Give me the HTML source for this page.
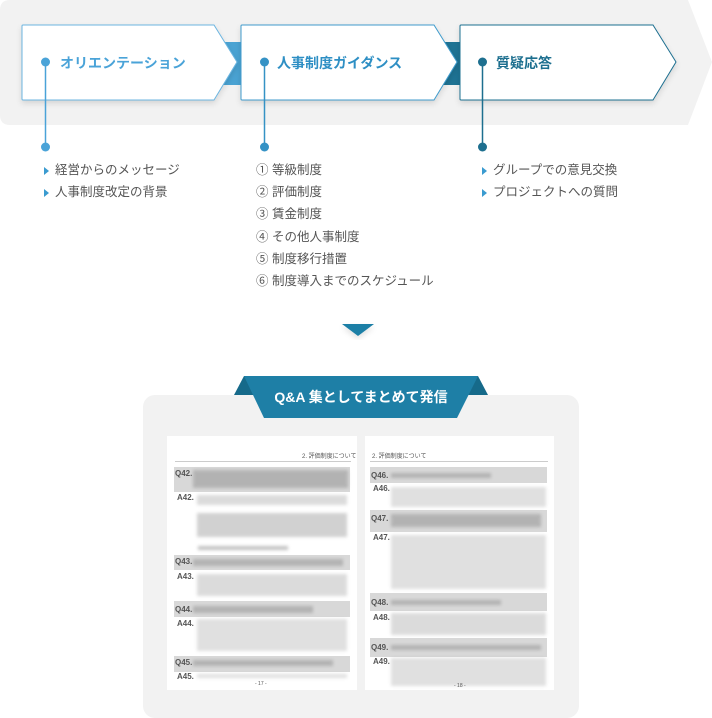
<!DOCTYPE html>
<html><head><meta charset="utf-8">
<style>
*{margin:0;padding:0;box-sizing:border-box}
body{width:712px;height:718px;background:#fff;position:relative;overflow:hidden;font-family:"Liberation Sans","Noto Sans CJK JP",sans-serif}
.abs{position:absolute}
.title{position:absolute;font-size:14px;font-weight:bold;top:53px;white-space:nowrap}
.li{position:absolute;font-size:12.5px;color:#555;white-space:nowrap;line-height:16px}
.tri{position:absolute;width:0;height:0;border-left:5px solid #3a9bd0;border-top:4px solid transparent;border-bottom:4px solid transparent}
.qa{position:absolute;font-size:8px;font-weight:bold;color:#555}
.band{position:absolute;background:#d8d8d8}
.blur{position:absolute;background:#9a9a9a;filter:blur(1.5px);opacity:.6}
</style></head><body>
<svg class="abs" style="left:0;top:0" width="712" height="345">
<defs>
<filter id="sh" x="-10%" y="-10%" width="130%" height="140%"><feDropShadow dx="0" dy="3" stdDeviation="3" flood-color="#000" flood-opacity="0.12"/></filter>
</defs>
<path d="M10 0 H688 L712 62 L688 125 H10 Q0 125 0 115 V10 Q0 0 10 0Z" fill="#f2f2f2"/>
<rect x="220" y="42" width="25" height="43" fill="#4aa3d3"/>
<rect x="438" y="42" width="25" height="43" fill="#1e7394"/>
<g filter="url(#sh)">
<path d="M22 26 Q22 25 23 25 H214 L237 62 L214 100 H23 Q22 100 22 99Z" fill="#fff" stroke="#6cb5e0" stroke-width="1"/>
<path d="M241 26 Q241 25 242 25 H434 L457 62 L434 100 H242 Q241 100 241 99Z" fill="#fff" stroke="#3f9bcc" stroke-width="1"/>
<path d="M460 26 Q460 25 461 25 H653 L676 62 L653 100 H461 Q460 100 460 99Z" fill="#fff" stroke="#1f6f90" stroke-width="1"/>
</g>
<line x1="45.5" y1="62" x2="45.5" y2="147" stroke="#4aa3d8" stroke-width="1.5"/>
<circle cx="45.5" cy="62" r="4.5" fill="#4aa3d8"/><circle cx="45.5" cy="147" r="4.5" fill="#4aa3d8"/>
<line x1="264.5" y1="62" x2="264.5" y2="147" stroke="#3592c5" stroke-width="1.5"/>
<circle cx="264.5" cy="62" r="4.5" fill="#3592c5"/><circle cx="264.5" cy="147" r="4.5" fill="#3592c5"/>
<line x1="482.5" y1="62" x2="482.5" y2="147" stroke="#1d6f8f" stroke-width="1.5"/>
<circle cx="482.5" cy="62" r="4.5" fill="#1d6f8f"/><circle cx="482.5" cy="147" r="4.5" fill="#1d6f8f"/>
<path d="M342 324 H374 L358 336Z" fill="#1e7fa6" filter="url(#sh)"/>
</svg>
<div class="title" style="left:60px;color:#4aa3d8">オリエンテーション</div>
<div class="title" style="left:277px;color:#2e8fc4">人事制度ガイダンス</div>
<div class="title" style="left:496px;color:#1d6f8f">質疑応答</div>

<div class="tri" style="left:44px;top:167px"></div><div class="li" style="left:55px;top:162px">経営からのメッセージ</div>
<div class="tri" style="left:44px;top:189px"></div><div class="li" style="left:55px;top:184px">人事制度改定の背景</div>
<div class="tri" style="left:482px;top:167px"></div><div class="li" style="left:493px;top:162px">グループでの意見交換</div>
<div class="tri" style="left:482px;top:189px"></div><div class="li" style="left:493px;top:184px">プロジェクトへの質問</div>
<div class="li" style="left:256px;top:162px">① 等級制度</div>
<div class="li" style="left:256px;top:184px">② 評価制度</div>
<div class="li" style="left:256px;top:206px">③ 賃金制度</div>
<div class="li" style="left:256px;top:229px">④ その他人事制度</div>
<div class="li" style="left:256px;top:251px">⑤ 制度移行措置</div>
<div class="li" style="left:256px;top:273px">⑥ 制度導入までのスケジュール</div>

<div class="abs" style="left:143px;top:395px;width:436px;height:323px;background:#f2f2f2;border-radius:12px"></div>
<svg class="abs" style="left:230px;top:374px" width="262" height="46">
<path d="M4 21 L14 2 H24 L24 21Z" fill="#166a8a"/>
<path d="M258 21 L248 2 H238 L238 21Z" fill="#166a8a"/>
<path d="M14 2 H248 L227 44 H34Z" fill="#1e7fa6"/>
<text x="131" y="28" text-anchor="middle" fill="#fff" font-size="14" font-weight="bold" font-family="Liberation Sans, Noto Sans CJK JP, sans-serif">Q&amp;A 集としてまとめて発信</text>
</svg>

<div class="abs" style="left:167px;top:436px;width:190px;height:254px;background:#fff"></div>
<div class="abs" style="left:365px;top:436px;width:189px;height:254px;background:#fff"></div>
<div class="abs" style="left:175px;top:461px;width:176px;height:1px;background:#ccc"></div>
<div class="abs" style="left:370px;top:461px;width:178px;height:1px;background:#ccc"></div>
<div class="qa" style="left:302px;top:451px;font-weight:normal;font-size:6px">2. 評価制度について</div>
<div class="qa" style="left:372px;top:451px;font-weight:normal;font-size:6px">2. 評価制度について</div>

<div class="band" style="left:174px;top:467px;width:176px;height:25px"></div>
<div class="band" style="left:174px;top:555px;width:176px;height:15px"></div>
<div class="band" style="left:174px;top:601px;width:176px;height:16px"></div>
<div class="band" style="left:174px;top:656px;width:176px;height:16px"></div>
<div class="band" style="left:370px;top:467px;width:177px;height:16px"></div>
<div class="band" style="left:370px;top:510px;width:177px;height:22px"></div>
<div class="band" style="left:370px;top:593px;width:177px;height:18px"></div>
<div class="band" style="left:370px;top:638px;width:177px;height:19px"></div>

<div class="qa" style="left:175px;top:469px">Q42.</div><div class="qa" style="left:177px;top:493px">A42.</div>
<div class="qa" style="left:175px;top:557px">Q43.</div><div class="qa" style="left:177px;top:572px">A43.</div>
<div class="qa" style="left:175px;top:605px">Q44.</div><div class="qa" style="left:177px;top:619px">A44.</div>
<div class="qa" style="left:175px;top:658px">Q45.</div><div class="qa" style="left:177px;top:672px">A45.</div>
<div class="qa" style="left:371px;top:471px">Q46.</div><div class="qa" style="left:373px;top:484px">A46.</div>
<div class="qa" style="left:371px;top:514px">Q47.</div><div class="qa" style="left:373px;top:533px">A47.</div>
<div class="qa" style="left:371px;top:598px">Q48.</div><div class="qa" style="left:373px;top:613px">A48.</div>
<div class="qa" style="left:371px;top:643px">Q49.</div><div class="qa" style="left:373px;top:657px">A49.</div>

<div class="blur" style="left:193px;top:470px;width:155px;height:18px"></div>
<div class="blur" style="left:197px;top:495px;width:150px;height:10px;opacity:.35"></div>
<div class="blur" style="left:197px;top:513px;width:150px;height:24px;opacity:.45"></div>
<div class="blur" style="left:198px;top:546px;width:90px;height:4px"></div>
<div class="blur" style="left:193px;top:559px;width:150px;height:7px"></div>
<div class="blur" style="left:197px;top:574px;width:150px;height:22px;opacity:.35"></div>
<div class="blur" style="left:193px;top:606px;width:120px;height:7px"></div>
<div class="blur" style="left:197px;top:619px;width:150px;height:32px;opacity:.3"></div>
<div class="blur" style="left:193px;top:660px;width:140px;height:6px"></div>
<div class="blur" style="left:197px;top:674px;width:150px;height:4px;opacity:.3"></div>
<div class="blur" style="left:391px;top:473px;width:100px;height:5px"></div>
<div class="blur" style="left:391px;top:487px;width:155px;height:20px;opacity:.3"></div>
<div class="blur" style="left:391px;top:514px;width:150px;height:13px"></div>
<div class="blur" style="left:391px;top:535px;width:155px;height:54px;opacity:.3"></div>
<div class="blur" style="left:391px;top:600px;width:110px;height:5px"></div>
<div class="blur" style="left:391px;top:613px;width:155px;height:22px;opacity:.35"></div>
<div class="blur" style="left:391px;top:645px;width:150px;height:5px"></div>
<div class="blur" style="left:391px;top:658px;width:155px;height:28px;opacity:.3"></div>
<div class="qa" style="left:255px;top:681px;font-size:5px;font-weight:normal">- 17 -</div>
<div class="qa" style="left:454px;top:683px;font-size:5px;font-weight:normal">- 18 -</div>
</body></html>
